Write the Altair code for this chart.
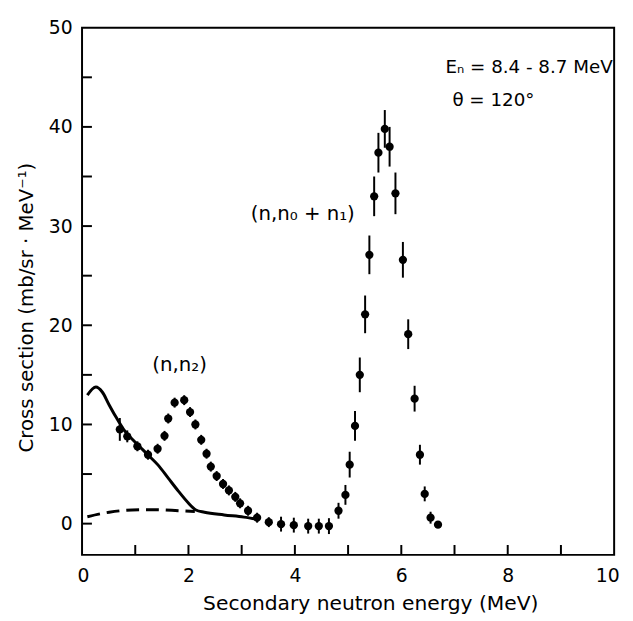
import altair as alt
import pandas as pd

# ---- data ----
energy = [0.71, 0.85, 1.04, 1.24, 1.42, 1.55, 1.62, 1.74, 1.92, 2.03, 2.13, 2.24, 2.34, 2.42,
          2.53, 2.65, 2.76, 2.88, 2.97, 3.12, 3.29, 3.51, 3.74, 3.98, 4.25, 4.45, 4.64, 4.82,
          4.95, 5.03, 5.13, 5.22, 5.32, 5.40, 5.49, 5.57, 5.69, 5.78, 5.89, 6.03, 6.13, 6.25,
          6.35, 6.44, 6.55, 6.69]
xsec = [9.5, 8.8, 7.8, 6.95, 7.55, 8.85, 10.6, 12.2, 12.45, 11.25, 10.0, 8.45, 7.05, 5.75,
        4.8, 4.0, 3.35, 2.7, 2.05, 1.3, 0.6, 0.15, -0.05, -0.15, -0.25, -0.25, -0.25, 1.3,
        2.9, 5.95, 9.85, 15.0, 21.1, 27.1, 33.0, 37.4, 39.8, 38.0, 33.3, 26.6, 19.1, 12.6,
        6.95, 3.0, 0.6, -0.1]
xsec_err = [1.15, 0.6, 0.5, 0.5, 0.5, 0.5, 0.5, 0.5, 0.5, 0.5, 0.5, 0.5, 0.5, 0.5,
            0.5, 0.5, 0.5, 0.5, 0.5, 0.5, 0.5, 0.5, 0.75, 0.75, 0.75, 0.75, 0.8, 0.8,
            1.0, 1.3, 1.5, 1.75, 1.9, 1.95, 2.0, 2.0, 1.9, 2.0, 2.1, 1.8, 1.5, 1.3,
            1.0, 0.75, 0.6, 0.3]

solid_x = [0.10, 0.26, 0.38, 0.51, 0.63, 0.78, 1.00, 1.25, 1.43, 1.62, 1.81, 1.99, 2.14,
           2.30, 2.67, 3.04, 3.33]
solid_y = [12.95, 13.77, 13.27, 11.97, 10.82, 9.51, 8.2, 6.88, 5.9, 4.59, 3.28, 2.13, 1.38,
           1.15, 0.88, 0.66, 0.4]
dash_x = [0.10, 0.51, 0.94, 1.37, 1.81, 2.12]
dash_y = [0.7, 1.15, 1.38, 1.41, 1.31, 1.22]

x_labels = [0, 2, 4, 6, 8, 10]
y_labels = [0, 10, 20, 30, 40, 50]
x_minor = [1, 2, 3, 4, 5, 6, 7, 8, 9]
y_minor = [0, 5, 10, 15, 20, 25, 30, 35, 40, 45]

cond_text = ["Eₙ = 8.4 - 8.7 MeV", "θ  = 120°"]
cond_x = [6.83, 6.96]
cond_y = [45.45, 42.15]
react_text = ["(n,n₀ + n₁)", "(n,n₂)"]
react_x = [3.17, 1.32]
react_y = [30.6, 15.4]

X_DOMAIN = [0, 10]
Y_DOMAIN = [-3.15, 50]
W, H = 539, 534
FONT = "DejaVu Sans"

pts = pd.DataFrame({"e": energy, "s": xsec, "err": xsec_err})
pts["lo"] = pts["s"] - pts["err"]
pts["hi"] = pts["s"] + pts["err"]
solid = pd.DataFrame({"e": solid_x, "s": solid_y})
dash = pd.DataFrame({"e": dash_x, "s": dash_y})
xt = pd.DataFrame({"v": x_minor})
yt = pd.DataFrame({"v": y_minor})
cond = pd.DataFrame({"t": cond_text, "x": cond_x, "y": cond_y})
react = pd.DataFrame({"t": react_text, "x": react_x, "y": react_y})

xs = alt.Scale(domain=X_DOMAIN, nice=False)
ys = alt.Scale(domain=Y_DOMAIN, nice=False, zero=False)

x_axis = alt.Axis(values=x_labels, title="Secondary neutron energy (MeV)", ticks=False,
                  tickSize=0, domain=False, grid=False, labelFont=FONT, labelFontSize=19,
                  labelColor="black", labelPadding=12, labelFlush=True, labelFlushOffset=5,
                  titleFont=FONT, titleFontSize=20.5, titleFontWeight="normal",
                  titleColor="black", titleX=292, titleY=55, titleBaseline="alphabetic",
                  titleAlign="center")
y_axis = alt.Axis(values=y_labels, title="Cross section (mb/sr · MeV⁻¹)", ticks=False,
                  tickSize=0, domain=False, grid=False, labelFont=FONT, labelFontSize=19,
                  labelColor="black", labelPadding=10, labelFlush=False,
                  titleFont=FONT, titleFontSize=20, titleFontWeight="normal",
                  titleColor="black", titleX=-50, titleY=283, titleBaseline="alphabetic",
                  titleAlign="center", titleAngle=270)

bars = alt.Chart(pts).mark_rule(color="black", strokeWidth=2).encode(
    x=alt.X("e:Q", scale=xs, axis=x_axis),
    y=alt.Y("lo:Q", scale=ys, axis=y_axis),
    y2="hi:Q",
)
dots = alt.Chart(pts).mark_point(filled=True, color="black", size=70, opacity=1,
                                 shape="circle").encode(
    x=alt.X("e:Q", scale=xs), y=alt.Y("s:Q", scale=ys))
solid_line = alt.Chart(solid).mark_line(color="black", strokeWidth=3,
                                        interpolate="monotone").encode(
    x=alt.X("e:Q", scale=xs), y=alt.Y("s:Q", scale=ys))
dash_line = alt.Chart(dash).mark_line(color="black", strokeWidth=3, strokeDash=[13, 7],
                                      interpolate="monotone").encode(
    x=alt.X("e:Q", scale=xs), y=alt.Y("s:Q", scale=ys))
xticks = alt.Chart(xt).mark_rule(color="black", strokeWidth=2).encode(
    x=alt.X("v:Q", scale=xs), y=alt.value(H), y2=alt.value(H - 10))
yticks = alt.Chart(yt).mark_rule(color="black", strokeWidth=2).encode(
    y=alt.Y("v:Q", scale=ys), x=alt.value(0), x2=alt.value(10))
cond_lbl = alt.Chart(cond).mark_text(font=FONT, fontSize=18.5, align="left",
                                     baseline="alphabetic", color="black").encode(
    x=alt.X("x:Q", scale=xs), y=alt.Y("y:Q", scale=ys), text="t:N")
react_lbl = alt.Chart(react).mark_text(font=FONT, fontSize=20, align="left",
                                       baseline="alphabetic", color="black").encode(
    x=alt.X("x:Q", scale=xs), y=alt.Y("y:Q", scale=ys), text="t:N")

chart = alt.layer(bars, dots, solid_line, dash_line, xticks, yticks,
                  cond_lbl, react_lbl).properties(
    width=W, height=H,
    autosize=alt.AutoSizeParams(type="none"),
    padding={"left": 75, "top": 16, "right": 11, "bottom": 63},
    background="white",
).configure_view(stroke="black", strokeWidth=2)

chart.save("out.html", embed_options={"renderer": "svg", "actions": False})
